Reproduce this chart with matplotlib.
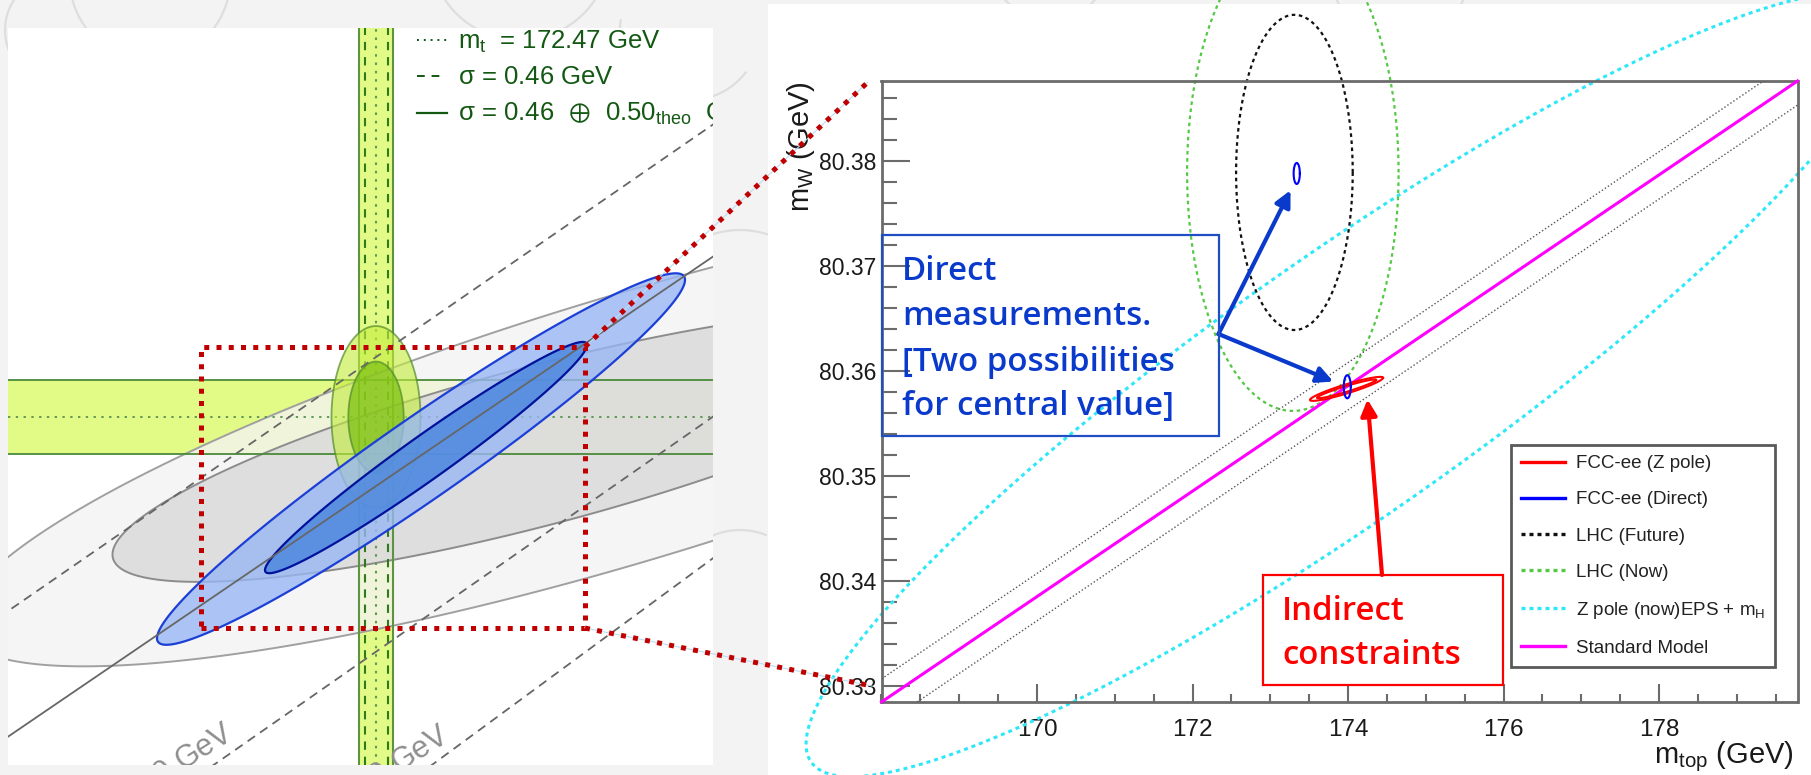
import numpy as np
import matplotlib
matplotlib.use("Agg")
import matplotlib.pyplot as plt
from matplotlib.patches import Rectangle, Arc, ConnectionPatch
from matplotlib.lines import Line2D
from matplotlib.ticker import MultipleLocator, FixedLocator
from matplotlib.colors import to_rgba

W, H, DPI = 1811, 775, 100

plt.rcParams['font.family'] = ['Liberation Sans', 'DejaVu Sans']
plt.rcParams['mathtext.fontset'] = 'custom'
plt.rcParams['mathtext.rm'] = 'Liberation Sans'
plt.rcParams['mathtext.it'] = 'Liberation Sans:italic'
plt.rcParams['mathtext.bf'] = 'Liberation Sans:bold'
plt.rcParams['mathtext.fallback'] = 'stixsans'

# ---------------- right panel: m_W vs m_top ----------------
mtop_lim = (168.0, 179.78)
mw_lim = (80.3285, 80.3876)
mtop_ticks = [170, 172, 174, 176, 178]
mw_ticks = [80.33, 80.34, 80.35, 80.36, 80.37, 80.38]

sm_mtop = [168.0, 179.78]
sm_mw = [80.3285, 80.3876]
sm_up_mw = [80.3307, 80.3898]
sm_lo_mw = [80.3262, 80.3853]

# contours: (centre m_top, centre m_W, half-span m_top, half-span m_W, vertical half-height)
zpole_now = (174.00, 80.3587, 6.97, 0.0342, 0.0149)
lhc_now = (173.29, 80.3789, 1.36, 0.0, 0.0227)
lhc_future = (173.31, 80.3789, 0.75, 0.0, 0.0150)
fccee_zpole = [(173.98, 80.3583, 0.47, 0.00105, 0.00045),
               (173.98, 80.3583, 0.38, 0.00085, 0.00028)]
fccee_direct = [(173.99, 80.3585, 0.045, 0.0, 0.0011),
                (173.34, 80.3788, 0.040, 0.0, 0.0010)]

legend_labels = ['FCC-ee (Z pole)', 'FCC-ee (Direct)', 'LHC (Future)', 'LHC (Now)',
                 r'Z pole (now)EPS + m$_\mathregular{H}$', 'Standard Model']

arrow_direct_tips = [(173.26, 80.3772), (173.81, 80.3590)]
arrow_indirect_tip = (174.25, 80.3573)

# ---------------- left panel: global fit overview ----------------
left_mt_lim = (157.75, 185.95)
left_mw_lim = (80.2441, 80.5428)
mt_meas, mt_err_exp, mt_err_tot = 172.47, 0.46, 0.68
mw_meas, mw_err = 80.385, 0.015

fit_outer = (182.63, 80.3807, 26.8, 0.0788, 0.0559)
fit_inner = (179.03, 80.3736, 17.1, 0.0442, 0.0332)
meas_outer = (172.47, 80.3851, 1.78, 0.0, 0.0369)
meas_inner = (172.47, 80.3851, 1.108, 0.0, 0.0225)
fcc_outer = (174.27, 80.3681, 10.56, 0.0726, 0.0199)
fcc_inner = (174.47, 80.3687, 6.44, 0.0456, 0.0108)

mh_line_mt = [150.0, 190.0]
mh_50_mw = [80.2523, 80.5320]
mh_125_mw = [80.2021, 80.4781]
mh_300_mw = [80.1312, 80.4139]
mh_600_mw = [80.0600, 80.3581]

zoom_box_mt = (165.47, 180.83)
zoom_box_mw = (80.2996, 80.4136)


def ellipse(c_x, c_y, d_x, d_y, h, n=600):
    t = np.linspace(0, 2 * np.pi, n)
    return c_x + d_x * np.cos(t), c_y + d_y * np.cos(t) + h * np.sin(t)


def fx(px):
    return px / W


def fy(py):
    return 1 - py / H


def fig_rect(x0, y0, x1, y1):
    return [x0 / W, 1 - y1 / H, (x1 - x0) / W, (y1 - y0) / H]


fig = plt.figure(figsize=(W / DPI, H / DPI), dpi=DPI)
fig.patch.set_facecolor('#f3f3f3')

# faint sketch strokes in the backdrop
sketch = [(150, -20, 80, 190, 330), (320, 40, 120, 200, 280), (60, 30, 55, 120, 260),
          (690, 30, 70, 160, 300), (740, 320, 90, 70, 210), (520, -50, 90, 210, 330),
          (1050, -40, 60, 200, 340), (1400, -30, 70, 190, 350), (740, 600, 70, 80, 260)]
for cx, cy, r, a0, a1 in sketch:
    fig.add_artist(Arc((fx(cx), fy(cy)), 2 * r / W, 2 * r / H, theta1=a0, theta2=a1,
                       transform=fig.transFigure, color='#dedede', lw=1.6, zorder=-2))

fig.add_artist(Rectangle((fx(768), 0), 1 - fx(768), fy(4), transform=fig.transFigure,
                         facecolor='white', edgecolor='none', zorder=-1))

# ================= left panel =================
ax1 = fig.add_axes(fig_rect(8, 28, 713, 765))
ax1.set_xlim(*left_mt_lim)
ax1.set_ylim(*left_mw_lim)
ax1.set_xticks([])
ax1.set_yticks([])
for s in ax1.spines.values():
    s.set_visible(False)
ax1.set_facecolor('white')

band_fill = '#e2fa86'
ax1.axvspan(mt_meas - mt_err_tot, mt_meas + mt_err_tot, color=band_fill, lw=0, zorder=1)
ax1.axhspan(mw_meas - mw_err, mw_meas + mw_err, color=band_fill, lw=0, zorder=1)

for ell, fc, ec, a in [(fit_outer, '#f3f3f3', '#a0a0a0', 0.78), (fit_inner, '#dadada', '#8c8c8c', 0.85)]:
    x, y = ellipse(*ell)
    ax1.fill(x, y, facecolor=to_rgba(fc, a), edgecolor=ec, lw=1.4, zorder=2)

for v in (mt_meas - mt_err_tot, mt_meas + mt_err_tot):
    ax1.axvline(v, color='#5d9442', lw=1.5, zorder=4)
for v in (mt_meas - mt_err_exp, mt_meas + mt_err_exp):
    ax1.axvline(v, color='#2f7a1a', lw=1.5, ls=(0, (4, 3.3)), zorder=4)
ax1.axvline(mt_meas, color='#5f9a55', lw=1.5, ls=(0, (1.2, 2.8)), zorder=4)
for v in (mw_meas - mw_err, mw_meas + mw_err):
    ax1.axhline(v, color='#4a8a3a', lw=1.3, zorder=4)
ax1.axhline(mw_meas, color='#5f9a55', lw=1.4, ls=(0, (1.2, 2.8)), zorder=4)

for ell, fc, a in [(meas_outer, '#c4ec3e', 0.62), (meas_inner, '#78be10', 0.68)]:
    x, y = ellipse(*ell)
    ax1.fill(x, y, facecolor=to_rgba(fc, a), edgecolor=to_rgba('#4f8a2a', 0.7), lw=1.3, zorder=5)

for ell, fc, ec, a in [(fcc_outer, '#98b7f5', '#1c3fd6', 0.78), (fcc_inner, '#4a86df', '#00129c', 0.82)]:
    x, y = ellipse(*ell)
    ax1.fill(x, y, facecolor=to_rgba(fc, a), edgecolor=ec, lw=1.6, zorder=6)

ax1.plot(mh_line_mt, mh_125_mw, color='#666666', lw=1.3, zorder=7)
for mw in (mh_50_mw, mh_300_mw, mh_600_mw):
    ax1.plot(mh_line_mt, mw, color='#666666', lw=1.3, ls=(0, (5, 3.4)), zorder=7)

for (x, y), s in [((166.87, 80.2550), r'M$_\mathregular{H}$ = 300 GeV'),
                  ((175.51, 80.2542), r'M$_\mathregular{H}$ = 600 GeV')]:
    ax1.text(x, y, s, rotation=32, rotation_mode='anchor', ha='right', va='baseline',
             fontsize=22, color='#8e8e8e', zorder=8, clip_on=True)

# legend of the measurements
leg_green = '#135813'
ax1.plot([fx(417), fx(447)], [fy(40), fy(40)], transform=fig.transFigure, color=leg_green,
         lw=1.4, ls=(0, (1, 2.5)), zorder=8)
ax1.plot([fx(417), fx(442)], [fy(76), fy(76)], transform=fig.transFigure, color=leg_green,
         lw=1.4, ls=(0, (4, 3.5)), zorder=8)
ax1.plot([fx(417), fx(447)], [fy(113), fy(113)], transform=fig.transFigure, color=leg_green,
         lw=1.6, zorder=8)
for yb, s in [(49, r'$\mathregular{m_t}$  = 172.47 GeV'),
              (83.5, r'$\mathregular{\sigma}$ = 0.46 GeV'),
              (121, r'$\mathregular{\sigma}$ = 0.46 $\,\oplus\,$ 0.50$_\mathregular{theo}$  GeV')]:
    ax1.text(fx(458), fy(yb), s, transform=fig.transFigure, fontsize=18.5, color=leg_green,
             va='baseline', ha='left', zorder=8, clip_on=True)

# zoomed region marker
red_dot = dict(color='#c00000', lw=3.6, ls=(0, (1, 1.45)), dash_capstyle='butt')
bx = [zoom_box_mt[0], zoom_box_mt[1], zoom_box_mt[1], zoom_box_mt[0], zoom_box_mt[0]]
by = [zoom_box_mw[0], zoom_box_mw[0], zoom_box_mw[1], zoom_box_mw[1], zoom_box_mw[0]]
ax1.plot(bx, by, zorder=9, **red_dot)

# ================= right panel =================
ax2 = fig.add_axes(fig_rect(881.5, 81, 1797.5, 702))
ax2.set_xlim(*mtop_lim)
ax2.set_ylim(*mw_lim)
ax2.set_facecolor('none')

axis_gray = '#6b6b6b'
for s in ax2.spines.values():
    s.set_color(axis_gray)
    s.set_linewidth(2.0)
ax2.xaxis.set_major_locator(FixedLocator(mtop_ticks))
ax2.xaxis.set_minor_locator(MultipleLocator(0.5))
ax2.yaxis.set_major_locator(FixedLocator(mw_ticks))
ax2.yaxis.set_minor_locator(MultipleLocator(0.002))
ax2.set_xticklabels([str(t) for t in mtop_ticks])
ax2.set_yticklabels([f'{t:.2f}' for t in mw_ticks])
ax2.tick_params(axis='both', which='both', direction='in', color=axis_gray, width=1.5,
                labelcolor='#1a1a1a')
ax2.tick_params(axis='x', which='major', length=13, pad=12, labelsize=17.5)
ax2.tick_params(axis='x', which='minor', length=6)
ax2.tick_params(axis='y', which='major', length=20, pad=3.5, labelsize=16.5)
ax2.tick_params(axis='y', which='minor', length=11)

ax2.set_xlabel(r'$\mathregular{m_{top}}$ (GeV)', loc='right', fontsize=21, color='#1a1a1a')
ax2.xaxis.set_label_coords(0.9962, -0.060)
ax2.set_ylabel(r'$\mathregular{m_{W}}$ (GeV)', loc='top', fontsize=21, color='#1a1a1a')
ax2.yaxis.set_label_coords(-0.070, 1.0)

c_red, c_blue, c_black, c_green, c_cyan, c_mag = '#ff0000', '#0000ff', '#111111', '#55c845', '#2ee8f8', '#ff00ff'

x, y = ellipse(*zpole_now)
ax2.plot(x, y, color=c_cyan, lw=2.2, ls=(0, (1.3, 1.3)), clip_on=False, zorder=2)
x, y = ellipse(*lhc_now)
ax2.plot(x, y, color=c_green, lw=1.6, ls=(0, (1.6, 1.6)), clip_on=False, zorder=2)
x, y = ellipse(*lhc_future)
ax2.plot(x, y, color=c_black, lw=1.6, ls=(0, (1.6, 1.6)), clip_on=False, zorder=2)

ax2.plot(sm_mtop, sm_up_mw, color='#555555', lw=1.0, ls=(0, (1, 1.6)), zorder=3)
ax2.plot(sm_mtop, sm_lo_mw, color='#555555', lw=1.0, ls=(0, (1, 1.6)), zorder=3)
ax2.plot(sm_mtop, sm_mw, color=c_mag, lw=2.2, zorder=3, clip_on=False)

for ell in fccee_zpole:
    x, y = ellipse(*ell)
    ax2.plot(x, y, color=c_red, lw=1.5, zorder=4)
for ell in fccee_direct:
    x, y = ellipse(*ell)
    ax2.plot(x, y, color=c_blue, lw=1.5, zorder=4)

handles = [Line2D([], [], color=c_red, lw=2.4),
           Line2D([], [], color=c_blue, lw=2.4),
           Line2D([], [], color=c_black, lw=2.4, ls=(0, (1.2, 1.2))),
           Line2D([], [], color=c_green, lw=2.4, ls=(0, (1.2, 1.2))),
           Line2D([], [], color=c_cyan, lw=2.4, ls=(0, (1.2, 1.2))),
           Line2D([], [], color=c_mag, lw=2.4)]
leg = ax2.legend(handles, legend_labels, loc='upper left',
                 bbox_to_anchor=(fx(1511), fy(445)), bbox_transform=fig.transFigure,
                 fontsize=13.5, frameon=True, fancybox=False, framealpha=1,
                 edgecolor='#5a5a5a', borderpad=0.55, borderaxespad=0,
                 handlelength=2.35, handletextpad=0.55, labelspacing=1.01)
leg.get_frame().set_linewidth(2.0)
for t in leg.get_texts():
    t.set_color('#222222')
leg.set_zorder(6)

# annotation boxes
c_box_blue, c_txt_blue = '#1f4ec4', '#0a3acc'
note_font = dict(family=['Open Sans', 'DejaVu Sans'], weight='semibold', fontsize=23.8)
fig.add_artist(Rectangle((fx(882), fy(436)), fx(1218.5) - fx(882), fy(235) - fy(436),
                         transform=fig.transFigure, facecolor='none', edgecolor=c_box_blue,
                         lw=1.6, zorder=5))
for yb, s in [(280, 'Direct'), (325, 'measurements.'), (371, '[Two possibilities'),
              (415, 'for central value]')]:
    fig.text(fx(902), fy(yb), s, color=c_txt_blue, va='baseline', ha='left', zorder=6, **note_font)

fig.add_artist(Rectangle((fx(1263), fy(685)), fx(1503) - fx(1263), fy(575) - fy(685),
                         transform=fig.transFigure, facecolor='none', edgecolor='#ff0000',
                         lw=1.6, zorder=5))
for yb, s in [(620, 'Indirect'), (664, 'constraints')]:
    fig.text(fx(1282), fy(yb), s, color='#ff0000', va='baseline', ha='left', zorder=6, **note_font)

for tip in arrow_direct_tips:
    ax2.annotate('', xy=tip, xycoords='data', xytext=(fx(1218.5), fy(334)),
                 textcoords='figure fraction', annotation_clip=False,
                 arrowprops=dict(arrowstyle='-|>', color='#0a3acc', lw=3.0,
                                 mutation_scale=24, shrinkA=0, shrinkB=0), zorder=7)
ax2.annotate('', xy=arrow_indirect_tip, xycoords='data', xytext=(fx(1382), fy(575)),
             textcoords='figure fraction', annotation_clip=False,
             arrowprops=dict(arrowstyle='-|>', color='#ff0000', lw=3.0,
                             mutation_scale=24, shrinkA=0, shrinkB=0), zorder=7)

# connectors from the marked region to the zoomed plot
for (mt_c, mw_c), (ux, uy) in [((zoom_box_mt[1], zoom_box_mw[1]), (-0.0147, 0.9984)),
                               ((zoom_box_mt[1], zoom_box_mw[0]), (-0.0104, 0.0258))]:
    under = ConnectionPatch((mt_c, mw_c), (ux, uy), coordsA='data', coordsB='axes fraction',
                            axesA=ax1, axesB=ax2, color='#bcdcf2', lw=0.8, zorder=9)
    fig.add_artist(under)
    con = ConnectionPatch((mt_c, mw_c), (ux, uy), coordsA='data', coordsB='axes fraction',
                          axesA=ax1, axesB=ax2, color='#c00000', lw=3.6, ls=(0, (1, 1.45)),
                          capstyle='butt', zorder=10)
    fig.add_artist(con)

fig.savefig('out.png', dpi=DPI, facecolor=fig.get_facecolor())
